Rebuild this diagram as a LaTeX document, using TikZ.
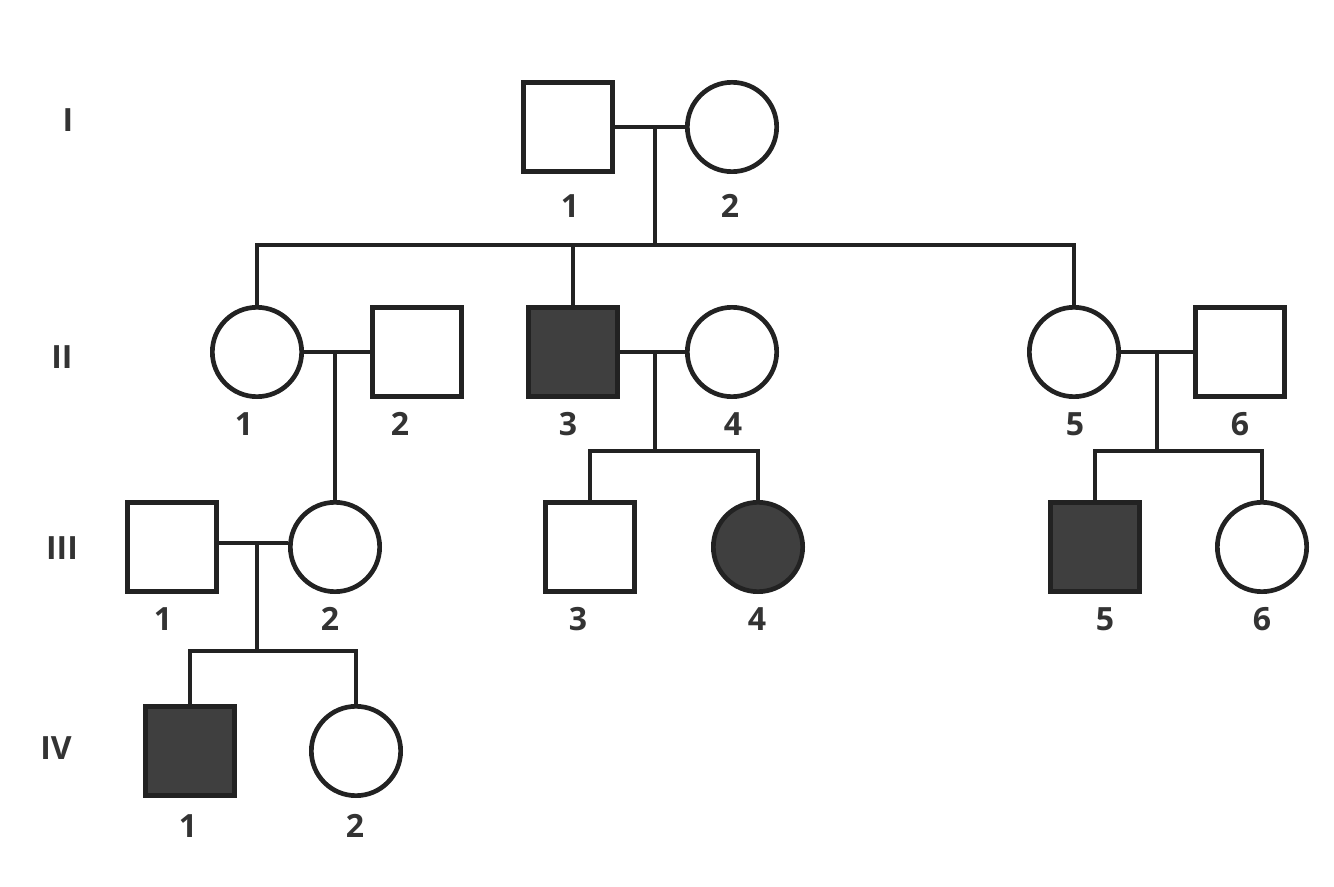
\documentclass[tikz,border=0pt]{standalone}
\usepackage{fontspec}
\setmainfont{Open Sans}
\usetikzlibrary{positioning}
\definecolor{linegray}{HTML}{222222}
\definecolor{fillgray}{HTML}{3F3F3F}
\definecolor{textgray}{HTML}{333333}
\tikzset{
  person/.style={draw=linegray, line width=3.5pt, minimum size=67pt, inner sep=0pt},
  male/.style={person, rectangle},
  female/.style={person, circle},
  affected/.style={fill=fillgray},
  num/.style={font=\fontsize{24}{28}\selectfont\bfseries, text=textgray},
  link/.style={draw=linegray, line width=3.5pt},
}

\begin{document}
\begin{tikzpicture}[x=0.75pt, y=-0.75pt]
\useasboundingbox (0,0) rectangle (1334,887);

% generation labels
\node[num] (gI) at (68,120) {I};
\node[num] (gII) at (62,357) {II};
\node[num] (gIII) at (62,548) {III};
\node[num] (gIV) at (56,748) {IV};

% generation I
\node[male] (I1) at (568,127) {};
\node[female] (I2) at (732,127) {};
\node[num] (lI1) at (570,206) {1};
\node[num] (lI2) at (730,206) {2};

% generation II
\node[female] (II1) at (257,352) {};
\node[male] (II2) at (417,352) {};
\node[male, affected] (II3) at (573,352) {};
\node[female] (II4) at (732,352) {};
\node[female] (II5) at (1074,352) {};
\node[male] (II6) at (1240,352) {};
\node[num] (lII1) at (244,424) {1};
\node[num] (lII2) at (400,424) {2};
\node[num] (lII3) at (568,424) {3};
\node[num] (lII4) at (733,424) {4};
\node[num] (lII5) at (1075,424) {5};
\node[num] (lII6) at (1240,424) {6};

% generation III
\node[male] (III1) at (172,547) {};
\node[female] (III2) at (335,547) {};
\node[male] (III3) at (590,547) {};
\node[female, affected] (III4) at (758,547) {};
\node[male, affected] (III5) at (1095,547) {};
\node[female] (III6) at (1262,547) {};
\node[num] (lIII1) at (163,619) {1};
\node[num] (lIII2) at (330,619) {2};
\node[num] (lIII3) at (578,619) {3};
\node[num] (lIII4) at (757,619) {4};
\node[num] (lIII5) at (1105,619) {5};
\node[num] (lIII6) at (1262,619) {6};

% generation IV
\node[male, affected] (IV1) at (190,751) {};
\node[female] (IV2) at (356,751) {};
\node[num] (lIV1) at (188,826) {1};
\node[num] (lIV2) at (355,826) {2};

% marriages and descent
\coordinate (mI) at (655,127);
\coordinate (sI) at (655,245);
\draw[link] (I1) -- (I2);
\draw[link] (mI) -- (sI);
\draw[link] (II1.north) |- (sI) -| (II5.north);
\draw[link] (II3.north) -- (II3.north |- sI);

\coordinate (mII1) at (335,352);
\draw[link] (II1) -- (II2);
\draw[link] (mII1) -- (III2.north);

\coordinate (mII3) at (655,352);
\coordinate (sII3) at (655,451);
\draw[link] (II3) -- (II4);
\draw[link] (mII3) -- (sII3);
\draw[link] (III3.north) |- (sII3) -| (III4.north);

\coordinate (mII5) at (1157,352);
\coordinate (sII5) at (1157,451);
\draw[link] (II5) -- (II6);
\draw[link] (mII5) -- (sII5);
\draw[link] (III5.north) |- (sII5) -| (III6.north);

\coordinate (mIII1) at (257,543);
\coordinate (sIII1) at (257,651);
\draw[link] (III1.east |- mIII1) -- (III2.west |- mIII1);
\draw[link] (mIII1) -- (sIII1);
\draw[link] (IV1.north) |- (sIII1) -| (IV2.north);
\end{tikzpicture}
\end{document}
